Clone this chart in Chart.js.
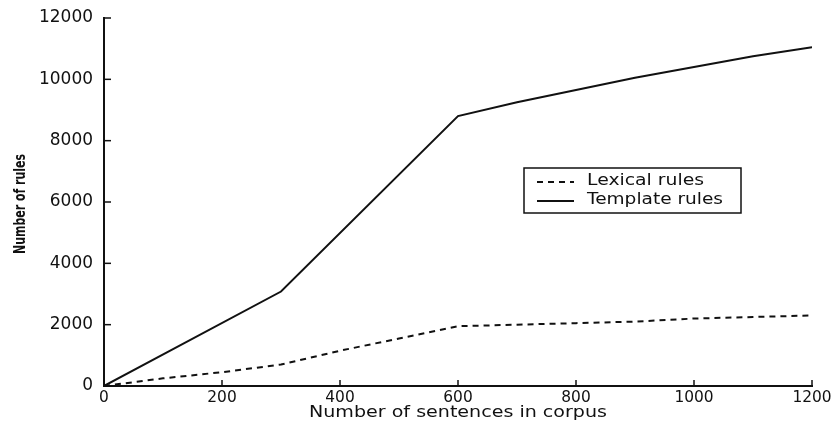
<!DOCTYPE html>
<html>
<head>
<meta charset="utf-8">
<script src="https://cdn.jsdelivr.net/npm/chart.js@4"></script>
<style>
  html, body { margin: 0; padding: 0; background: #fff; }
  #wrap { width: 836px; height: 425px; }
</style>
</head>
<body>
<div id="wrap"><canvas id="rulesChart" width="836" height="425"></canvas></div>
<script>
// data
const lexicalX = [0, 100, 200, 300, 400, 500, 600, 700, 800, 900, 1000, 1100, 1200];
const lexicalRules = [0, 250, 450, 700, 1150, 1550, 1950, 2000, 2050, 2100, 2200, 2250, 2300];
const templateX = [0, 300, 600, 700, 800, 900, 1000, 1100, 1200];
const templateRules = [0, 3080, 8800, 9250, 9650, 10050, 10400, 10750, 11050];
const xTicks = [0, 200, 400, 600, 800, 1000, 1200];
const yTicks = [0, 2000, 4000, 6000, 8000, 10000, 12000];
const seriesNames = ['Lexical rules', 'Template rules'];

const ink = '#111';
const sans = '"DejaVu Sans", "Liberation Sans", Arial, sans-serif';

// draw text squeezed/stretched to a given width (scanned figure has odd proportions)
function fitText(ctx, text, cx, cy, width) {
    const w = ctx.measureText(text).width;
    ctx.save();
    ctx.translate(cx, cy);
    ctx.scale(width / w, 1);
    ctx.textAlign = 'center';
    ctx.textBaseline = 'middle';
    ctx.fillText(text, 0, 0);
    ctx.restore();
}

// inward tick marks, tick labels, axis titles and a boxed legend like the original
const paperPlugin = {
    id: 'paper',
    afterDraw(chart) {
        const ctx = chart.ctx;
        const xs = chart.scales.x, ys = chart.scales.y;
        const axisY = xs.top, axisX = ys.right;
        ctx.save();
        ctx.strokeStyle = ink;
        ctx.fillStyle = ink;
        ctx.lineWidth = 1.5;

        ctx.font = '15px ' + sans;
        xTicks.forEach(v => {
            const px = xs.getPixelForValue(v);
            ctx.beginPath();
            ctx.moveTo(px, axisY);
            ctx.lineTo(px, axisY - 6);
            ctx.stroke();
            const s = String(v);
            fitText(ctx, s, px, axisY + 12, s.length * 9.8);
        });
        ctx.font = '17px ' + sans;
        yTicks.forEach(v => {
            const py = ys.getPixelForValue(v);
            ctx.beginPath();
            ctx.moveTo(axisX, py);
            ctx.lineTo(axisX + 7, py);
            ctx.stroke();
            const s = String(v);
            const w = s.length * 10.8;
            fitText(ctx, s, 93 - w / 2, py, w);
        });

        // axis titles
        ctx.font = '15px ' + sans;
        fitText(ctx, 'Number of sentences in corpus', (xs.left + xs.right) / 2, 413, 298);
        ctx.save();
        ctx.translate(21, 204);
        ctx.rotate(-Math.PI / 2);
        ctx.font = 'bold 16px "DejaVu Sans Condensed", "DejaVu Sans", sans-serif';
        fitText(ctx, 'Number of rules', 0, 0, 100);
        ctx.restore();

        // legend box
        const bx = 524, by = 168, bw = 217, bh = 45;
        const widths = [117, 136];
        ctx.lineWidth = 1.5;
        ctx.strokeRect(bx, by, bw, bh);
        ctx.font = '16px ' + sans;
        chart.data.datasets.forEach((ds, i) => {
            const ly = by + 14 + i * 19;
            ctx.beginPath();
            ctx.lineWidth = 2;
            ctx.setLineDash(ds.borderDash || []);
            ctx.moveTo(bx + 13, ly);
            ctx.lineTo(bx + 50, ly);
            ctx.stroke();
            ctx.setLineDash([]);
            fitText(ctx, ds.label, bx + 63 + widths[i] / 2, ly - 1, widths[i]);
        });
        ctx.restore();
    }
};

new Chart(document.getElementById('rulesChart'), {
    type: 'line',
    data: {
        datasets: [
            {
                label: seriesNames[0],
                data: lexicalX.map((x, i) => ({ x: x, y: lexicalRules[i] })),
                borderColor: ink,
                borderWidth: 2,
                borderDash: [6, 5],
                pointRadius: 0,
                tension: 0
            },
            {
                label: seriesNames[1],
                data: templateX.map((x, i) => ({ x: x, y: templateRules[i] })),
                borderColor: ink,
                borderWidth: 2,
                pointRadius: 0,
                tension: 0
            }
        ]
    },
    options: {
        responsive: false,
        animation: false,
        layout: { padding: { top: 18, right: 24, left: 0, bottom: 0 } },
        plugins: {
            legend: { display: false },
            tooltip: { enabled: false }
        },
        scales: {
            x: {
                type: 'linear',
                min: 0,
                max: 1200,
                afterBuildTicks: s => { s.ticks = xTicks.map(v => ({ value: v })); },
                afterFit: s => { s.height = 39; },
                grid: { display: false },
                border: { display: true, color: ink, width: 2 },
                ticks: { display: false }
            },
            y: {
                type: 'linear',
                min: 0,
                max: 12000,
                afterBuildTicks: s => { s.ticks = yTicks.map(v => ({ value: v })); },
                afterFit: s => { s.width = 104; },
                grid: { display: false },
                border: { display: true, color: ink, width: 2 },
                ticks: { display: false }
            }
        }
    },
    plugins: [paperPlugin]
});
</script>
</body>
</html>
